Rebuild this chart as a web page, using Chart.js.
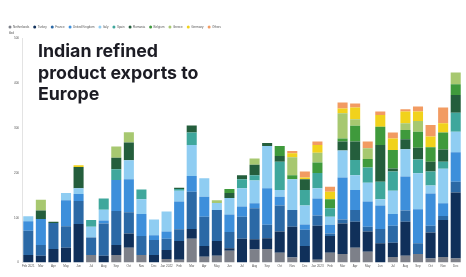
<!DOCTYPE html>
<html>
<head>
<meta charset="utf-8">
<script src="https://cdn.jsdelivr.net/npm/chart.js@4.4.1/dist/chart.umd.min.js"></script>
<style>
  html, body { margin: 0; padding: 0; background: #ffffff; }
  #wrap { position: relative; width: 466px; height: 277px; }
  #c { position: absolute; left: 0; top: 0; }
  #title {
    position: absolute; left: 38px; top: 40px;
    font-family: Inter, Lato, sans-serif; font-weight: 700;
    font-size: 17.8px; line-height: 21.7px; color: #1c1c24;
    white-space: nowrap; pointer-events: none;
  }
</style>
</head>
<body>
<div id="wrap">
  <canvas id="c" width="466" height="277"></canvas>
  <div id="title">Indian refined<br>product exports to<br>Europe</div>
</div>
<script>
const months = ['Feb 2021','Mar','Apr','May','Jun','Jul','Aug','Sep','Oct','Nov','Dec',
  'Jan 2022','Feb','Mar','Apr','May','Jun','Jul','Aug','Sep','Oct','Nov','Dec',
  'Jan 2023','Feb','Mar','Apr','May','Jun','Jul','Aug','Sep','Oct','Nov','Dec'];

const yTicks = [0, 100, 200, 300, 400, 500];
const unitLabel = 'kbd';

const netherlands = [0,0,0,0,0,17,0,17,33,17,0,8,6,53,13,15,26, 0,29,30,22,11,0,6,22,19,33,24,0,12,15,19,9,12,9];
const turkey      = [17,15,30,33,86,0,15,22,32,0,17,20,42,22,24,33,6, 53,23,24,47,69,37,76,37,68,58,45,43,32,76,0,58,83,147];
const france      = [54,24,58,48,51,39,72,76,47,42,33,25,26,83,65,69,36, 49,69,30,58,37,36,23,6,9,26,11,32,38,25,24,15,9,24];
const unitedKingdom = [21,58,0,58,16,0,7,69,74,49,11,16,62,35,45,0,39, 23,11,82,20,0,12,38,19,94,45,56,52,26,76,76,72,28,66];
const italy       = [11,0,0,16,13,24,24,0,42,33,35,45,24,69,41,16,37, 41,51,94,15,69,42,23,18,60,33,42,14,52,61,80,18,77,46];
const spain       = [0,0,0,0,0,15,25,24,0,22,0,0,4,28,0,0,0, 20,12,0,63,0,35,34,19,0,34,34,39,43,0,31,31,16,42];
const romania     = [0,19,3,0,47,0,0,26,40,0,0,0,3,16,0,0,11, 9,23,7,13,0,24,0,0,20,41,0,82,7,22,26,22,27,40];
const belgium     = [0,0,0,0,0,0,0,0,0,0,0,0,0,0,0,0,9, 0,0,0,22,9,0,23,20,7,35,19,41,41,21,36,32,38,24];
const greece      = [0,24,0,0,0,0,0,25,23,0,0,0,0,0,0,6,0, 0,14,0,0,40,0,22,0,56,15,24,0,0,15,24,0,0,26];
const germany     = [0,0,0,0,4,0,0,0,0,0,0,0,0,0,0,0,0, 0,0,0,0,9,4,17,17,11,26,0,26,26,26,21,24,21,0];
const others      = [0,0,0,0,0,0,0,0,0,0,0,0,0,0,0,0,0, 0,0,0,0,5,13,8,11,13,9,15,8,13,5,11,26,35,0];

const seriesNames = ['Netherlands','Turkey','France','United Kingdom','Italy','Spain','Romania','Belgium','Greece','Germany','Others'];
const seriesData = [netherlands, turkey, france, unitedKingdom, italy, spain, romania, belgium, greece, germany, others];
const seriesColors = ['#7d8089','#10305a','#2b69a6','#3d8fdb','#8fcdf2','#3fa79c','#245e3c','#3f9a3c','#a7c870','#f1d21c','#f29b62'];

// Legend + unit label drawn from the chart's own datasets
const topTextPlugin = {
  id: 'topText',
  afterDraw(chart) {
    const ctx = chart.ctx, a = chart.chartArea;
    ctx.save();
    ctx.font = '3px "Liberation Sans"';
    ctx.textBaseline = 'middle';
    ctx.textAlign = 'left';
    // legend row
    let x = 8.5;
    const y = 27;
    chart.data.datasets.forEach(ds => {
      ctx.fillStyle = ds.backgroundColor;
      ctx.beginPath();
      ctx.arc(x + 1.5, y, 1.5, 0, Math.PI * 2);
      ctx.fill();
      ctx.fillStyle = '#555';
      ctx.fillText(ds.label, x + 4.5, y);
      x += 4.5 + ctx.measureText(ds.label).width + 4;
    });
    // unit label
    ctx.fillText(unitLabel, a.left - 13, a.top - 5);
    ctx.restore();
  }
};

new Chart(document.getElementById('c'), {
  type: 'bar',
  data: {
    labels: months,
    datasets: seriesNames.map((n, i) => ({
      label: n,
      data: seriesData[i],
      backgroundColor: seriesColors[i],
      borderWidth: 0,
      barPercentage: 0.8,
      categoryPercentage: 1.0
    }))
  },
  plugins: [topTextPlugin],
  options: {
    responsive: false,
    animation: false,
    devicePixelRatio: 1,
    layout: { padding: { top: 38.5, left: 4.5, right: 4, bottom: 6.9 } },
    plugins: {
      legend: { display: false },
      tooltip: { enabled: false }
    },
    scales: {
      x: {
        stacked: true,
        grid: { display: false, drawTicks: false },
        border: { display: false },
        ticks: {
          autoSkip: false, maxRotation: 0, minRotation: 0,
          color: '#555', font: { size: 3, family: 'Liberation Sans' }, padding: 2
        }
      },
      y: {
        stacked: true,
        min: 0, max: 500,
        afterBuildTicks: (s) => { s.ticks = yTicks.map(v => ({ value: v })); },
        afterFit: (s) => { s.width = 17.5; },
        grid: { display: false, drawTicks: false },
        border: { display: true, color: '#e3e3e3' },
        ticks: {
          color: '#555', font: { size: 3, family: 'Liberation Sans' }, padding: 3
        }
      }
    }
  }
});
</script>
</body>
</html>
